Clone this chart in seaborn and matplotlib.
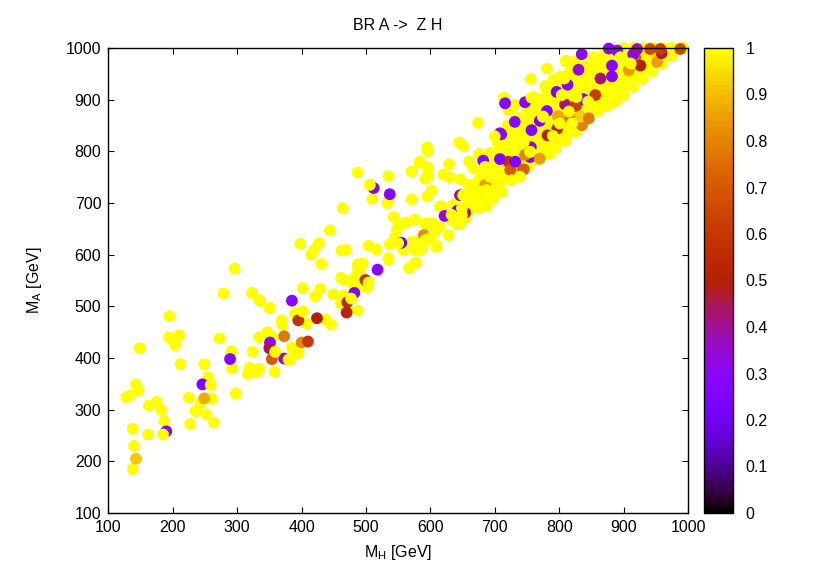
import numpy as np
import pandas as pd
import seaborn as sns
import matplotlib as mpl
import matplotlib.pyplot as plt

# === scattered points, BR = 1 (drawn first) ===
mh_low = [195, 194, 210, 204, 149, 273, 212, 249, 291, 292, 255, 259, 143, 147, 133, 128,
          225, 261, 243, 175, 163, 182, 235, 252, 187, 227, 264, 138, 162, 185, 140, 138,
          298, 324, 334, 351, 336, 347, 355, 369, 370, 319, 317, 331, 334, 358,
          296, 279, 323, 334, 351]
ma_low = [481, 440, 444, 425, 419, 438, 388, 388, 413, 380, 363, 348, 349, 337, 327, 324,
          323, 321, 313, 315, 308, 300, 297, 291, 278, 272, 275, 263, 252, 252, 230, 185,
          331, 412, 440, 496, 510, 450, 440, 473, 464, 381, 369, 373, 379, 373,
          573, 525, 526, 512, 497]

mh_mid = [431, 491, 488, 461, 466, 567, 576, 535, 402, 429, 421, 449, 465, 461, 487, 486, 481,
          502, 504, 493, 390, 402, 408, 438, 446, 385, 395, 382, 380,
          398, 427, 420, 415, 444, 464, 462,
          487, 535, 506, 510, 536, 533, 583, 571, 596, 597, 592, 596, 571, 602, 595, 615,
          543, 576, 562, 553, 548, 593, 607, 593, 607, 584, 571, 545, 537, 558, 576, 584, 609,
          504, 516, 469, 535, 578, 495, 487, 490, 483, 550,
          674, 595, 645, 651, 676, 693, 629, 660, 584, 620, 630, 596, 593, 667, 680, 647,
          662, 651, 677, 688, 618, 636, 659, 688, 698, 711, 633, 641, 592, 615, 628, 600,
          610, 587, 654]
ma_mid = [582, 582, 567, 555, 551, 574, 584, 590, 535, 534, 519, 523, 521, 505, 492, 551, 541,
          537, 546, 541, 486, 490, 466, 474, 465, 420, 409, 397, 397,
          621, 622, 610, 600, 647, 690, 608,
          759, 752, 735, 708, 710, 700, 778, 761, 769, 752, 747, 800, 707, 724, 713, 693,
          673, 668, 662, 657, 649, 660, 657, 631, 644, 628, 625, 633, 620, 609, 609, 609, 615,
          617, 610, 609, 593, 585, 583, 580, 570, 557, 622,
          855, 808, 817, 810, 795, 797, 775, 780, 780, 755, 750, 754, 748, 767, 757, 746,
          731, 715, 719, 706, 693, 696, 684, 694, 709, 722, 667, 659, 660, 654, 638, 635,
          617, 612, 670]

# === dense band along the diagonal ===
mh_band = [992, 975, 960, 945, 930, 915, 900, 888, 875, 860, 846, 836, 826, 810, 795, 780, 765,
           752, 738, 722, 705, 692,
           990, 975, 960, 960, 945, 945, 945, 930, 930, 930, 930, 915, 915, 915, 915,
           900, 900, 900, 900, 900, 885, 885, 885, 885, 885,
           870, 870, 870, 870, 870, 870, 855, 855, 855, 855, 855, 855,
           840, 840, 840, 840, 840, 840, 825, 825, 825, 825, 825, 825, 825,
           810, 810, 810, 810, 810, 810, 810, 810, 795, 795, 795, 795, 795, 795, 795,
           780, 780, 780, 780, 780, 780, 780, 765, 765, 765, 765, 765, 765,
           750, 750, 750, 750, 750, 750, 735, 735, 735, 735, 735, 735,
           720, 720, 720, 720, 720, 720, 705, 705, 705, 705, 705, 690, 690, 690, 690,
           675, 675, 675, 660, 660, 660,
           781, 756, 812, 778, 791, 809, 760, 714, 731, 721, 838, 840, 853, 864, 894]
ma_band = [1000, 985, 970, 955, 940, 925, 908, 897, 888, 878, 868, 850, 837, 820, 806, 795, 783,
           773, 760, 748, 731, 715,
           1000, 1000, 985, 1000, 970, 990, 1000, 955, 975, 995, 1000, 940, 960, 980, 1000,
           925, 945, 965, 985, 1000, 905, 925, 945, 965, 985,
           890, 910, 930, 950, 970, 990, 880, 900, 920, 940, 960, 980,
           865, 885, 905, 925, 945, 965, 845, 865, 885, 905, 925, 945, 975,
           825, 845, 865, 885, 905, 925, 945, 975, 810, 830, 850, 870, 890, 910, 930,
           800, 820, 840, 860, 880, 900, 920, 790, 810, 830, 850, 870, 890,
           775, 795, 815, 835, 855, 875, 765, 785, 805, 825, 845, 865,
           750, 770, 790, 810, 830, 850, 735, 755, 775, 795, 815, 720, 740, 760, 780,
           705, 725, 745, 695, 715, 735,
           960, 940, 973, 926, 938, 941, 904, 904, 890, 880, 964, 938, 982, 969, 982]

# staggered between the band columns, to close the holes
mh_fill = [667, 667, 682, 682, 697, 697, 697, 712, 712, 712, 712, 727, 727, 727, 727, 727,
           742, 742, 742, 742, 742, 757, 757, 757, 757, 757, 757, 772, 772, 772, 772, 772, 772,
           787, 787, 787, 787, 787, 787, 802, 802, 802, 802, 802, 802, 802,
           817, 817, 817, 817, 817, 817, 832, 832, 832, 832, 832, 847, 847, 847, 847, 847,
           862, 862, 862, 862, 862, 877, 877, 877, 877, 892, 892, 892, 892,
           907, 907, 907, 907, 922, 922, 922, 937, 937, 937, 952, 952, 967, 967]
ma_fill = [705, 725, 720, 740, 730, 750, 770, 745, 765, 785, 805, 760, 780, 800, 820, 840,
           775, 795, 815, 835, 855, 785, 805, 825, 845, 865, 885, 800, 820, 840, 860, 880, 900,
           815, 835, 855, 875, 895, 915, 825, 845, 865, 885, 905, 925, 945,
           840, 860, 880, 900, 920, 955, 855, 875, 895, 915, 935, 875, 895, 915, 935, 955,
           890, 910, 930, 950, 975, 900, 920, 940, 960, 915, 935, 955, 975,
           935, 955, 975, 995, 950, 970, 990, 965, 985, 998, 975, 995, 985, 998]

# === points with BR < 1 ===
mh_col = [246, 190, 143, 249, 289, 351, 350, 354, 373, 373, 400, 410, 395, 424, 470, 471, 499,
          482, 385, 518, 512, 537, 555, 590, 602, 622, 642, 654, 646, 682, 708,
          685, 721, 724, 743, 755, 716, 747, 796, 813, 830, 731, 770, 757, 781, 710, 708,
          732, 756, 755, 838, 809, 826, 797, 782, 807, 798, 832, 835, 745, 747, 770,
          817, 835, 864, 882, 882, 890, 856, 837, 825, 918, 926, 908, 915, 949, 952, 959,
          941, 957, 988, 921, 877, 833, 846, 835]
ma_col = [349, 258, 205, 322, 398, 430, 419, 398, 399, 442, 430, 432, 473, 477, 488, 508, 551,
          526, 511, 571, 729, 717, 623, 638, 660, 675, 685, 681, 715, 782, 835,
          735, 780, 764, 764, 793, 893, 895, 915, 929, 958, 857, 859, 841, 878, 833, 785,
          780, 808, 789, 900, 891, 888, 844, 831, 864, 868, 868, 851, 765, 793, 786,
          860, 851, 941, 945, 966, 995, 909, 901, 888, 982, 966, 957, 988, 993, 973, 990,
          998, 998, 998, 998, 999, 867, 864, 988]
br_col = [0.25, 0.27, 0.92, 0.88, 0.28, 0.30, 0.45, 0.70, 0.40, 0.78, 0.82, 0.60, 0.58, 0.50, 0.52, 0.55, 0.58,
          0.25, 0.28, 0.27, 0.28, 0.27, 0.22, 0.82, 0.96, 0.35, 0.25, 0.45, 0.40, 0.30, 0.30,
          0.85, 0.58, 0.70, 0.72, 0.33, 0.27, 0.30, 0.25, 0.30, 0.35, 0.28, 0.25, 0.25, 0.25, 0.30, 0.26,
          0.25, 0.30, 0.33, 0.25, 0.42, 0.62, 0.55, 0.50, 0.85, 0.87, 0.87, 0.80, 0.72, 0.80, 0.85,
          0.75, 0.80, 0.42, 0.30, 0.28, 0.32, 0.62, 0.27, 0.62, 0.72, 0.50, 0.85, 0.28, 0.95, 0.85, 0.45,
          0.65, 0.62, 0.65, 0.38, 0.30, 0.93, 0.78, 0.32]

# === yellow points on top of the coloured ones ===
mh_top = [259, 185, 359, 380, 395, 402, 477, 504, 506, 550, 645, 675, 755, 755, 815, 911, 895,
          602, 603, 645, 692, 726, 739, 786, 801, 775, 827, 760, 790, 700,
          633, 649, 649, 651, 685, 687, 677, 592, 600, 745, 845, 804, 808, 757, 820, 775]
ma_top = [348, 252, 412, 397, 409, 490, 515, 546, 735, 622, 659, 690, 799, 799, 877, 970, 982,
          660, 660, 659, 751, 744, 751, 796, 854, 867, 905, 905, 830, 829,
          677, 676, 690, 715, 770, 725, 722, 628, 632, 818, 896, 909, 941, 904, 854, 867]

cbar_ticks = [0, 0.1, 0.2, 0.3, 0.4, 0.5, 0.6, 0.7, 0.8, 0.9, 1]
cbar_labels = ["0", "0.1", "0.2", "0.3", "0.4", "0.5", "0.6", "0.7", "0.8", "0.9", "1"]
axis_ticks = [100, 200, 300, 400, 500, 600, 700, 800, 900, 1000]

mh_yellow = mh_low + mh_mid + mh_band + mh_fill
ma_yellow = ma_low + ma_mid + ma_band + ma_fill

df = pd.DataFrame({
    "mh": mh_yellow + mh_col + mh_top,
    "ma": ma_yellow + ma_col + ma_top,
    "br": [1.0] * len(mh_yellow) + br_col + [1.0] * len(mh_top),
})

sns.set_style("ticks")
plt.rcParams["font.family"] = ["Liberation Sans", "DejaVu Sans"]
plt.rcParams["mathtext.default"] = "regular"
plt.rcParams["text.color"] = "black"
plt.rcParams["axes.labelcolor"] = "black"
plt.rcParams["xtick.color"] = "black"
plt.rcParams["ytick.color"] = "black"

fig = plt.figure(figsize=(8.3, 5.81), dpi=100)
ax = fig.add_axes([108.3 / 830, 1 - 513 / 581, (688 - 108.3) / 830, (513 - 48) / 581])
cax = fig.add_axes([704 / 830, 1 - 513 / 581, 29 / 830, (513 - 48) / 581])

sns.scatterplot(data=df, x="mh", y="ma", hue="br", palette="gnuplot", hue_norm=(0, 1),
                s=72, linewidth=0, legend=False, clip_on=False, ax=ax)

ax.set_xlim(100, 1000)
ax.set_ylim(100, 1000)
ax.set_xticks(axis_ticks)
ax.set_yticks(axis_ticks)
ax.tick_params(direction="in", top=True, right=True, length=4.5, width=0.8,
               labelsize=11.5, pad=5)
for sp in ax.spines.values():
    sp.set_linewidth(1.0)
    sp.set_color("black")
    sp.set_visible(True)

ax.set_xlabel("$M_H$ [GeV]", fontsize=11.5, labelpad=6)
ax.set_ylabel("$M_A$ [GeV]", fontsize=11.5, labelpad=16)
ax.set_title("BR A ->  Z H", fontsize=11.5, pad=13)

# barre de couleur
sm = mpl.cm.ScalarMappable(norm=mpl.colors.Normalize(0, 1), cmap=plt.get_cmap("gnuplot", 100))
cb = fig.colorbar(sm, cax=cax, ticks=cbar_ticks)
cb.ax.set_yticklabels(cbar_labels)
cb.ax.tick_params(direction="in", left=True, right=True, length=4.5, width=0.8,
                  labelsize=11.5, pad=9, color="black")
cb.outline.set_linewidth(1.0)
cb.outline.set_edgecolor("black")

fig.savefig("out.png", dpi=100)
